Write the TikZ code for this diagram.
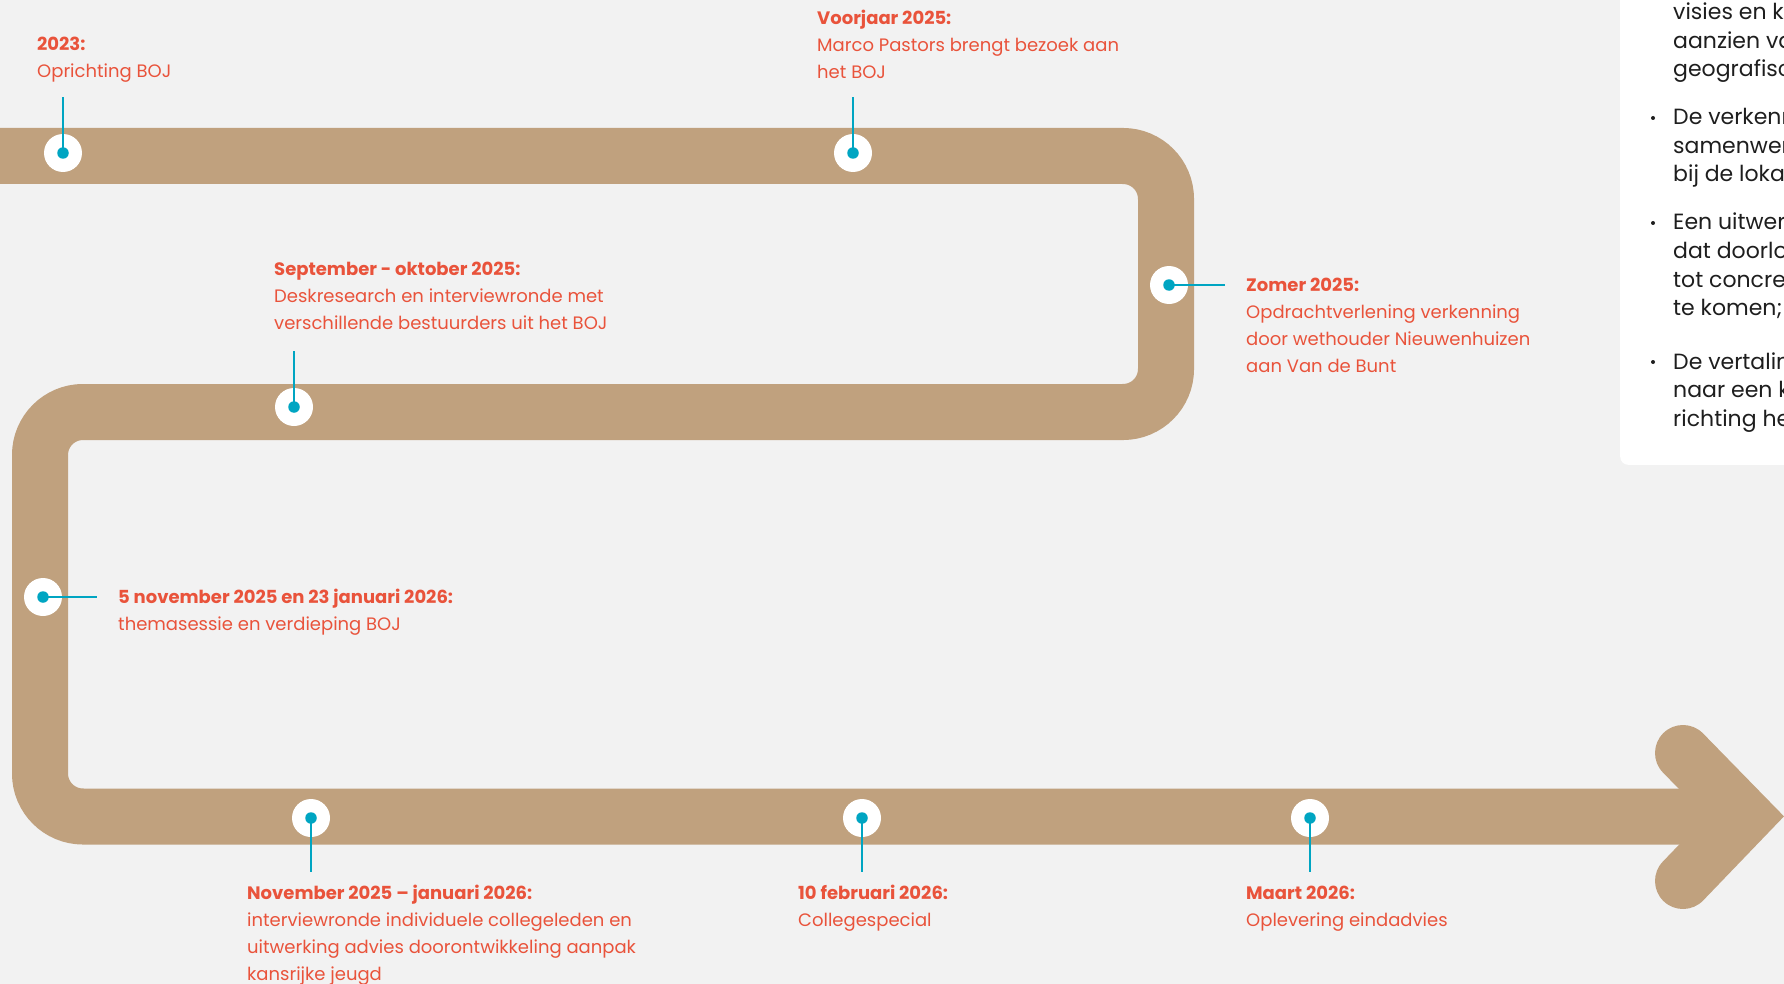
\documentclass[tikz,border=0pt]{standalone}
\usepackage{fontspec}
\setmainfont{Poppins}
\definecolor{bgc}{HTML}{F2F2F2}
\definecolor{bandc}{HTML}{C0A17E}
\definecolor{tealc}{HTML}{00A5C2}
\definecolor{redc}{HTML}{E9533B}
\definecolor{inkc}{HTML}{1E1E1E}
\tikzset{
  band/.style={draw=bandc, line width=56pt},
  dotw/.style={circle, fill=white, minimum size=38pt, inner sep=0pt},
  dott/.style={circle, fill=tealc, minimum size=11.5pt, inner sep=0pt},
  tline/.style={draw=tealc, line width=2.8pt},
  lbl/.style={anchor=base west, align=left, inner sep=0pt, text=redc, font=\fontsize{18}{27}\selectfont},
  boxtxt/.style={anchor=base west, align=left, inner sep=0pt, text=inkc, font=\fontsize{22}{28.5}\selectfont},
  bul/.style={circle, fill=inkc, minimum size=4pt, inner sep=0pt}
}
\begin{document}
\begin{tikzpicture}[x=1pt,y=-1pt]
\useasboundingbox[fill=bgc] (0,0) rectangle (1784,984);
% path coordinates
\coordinate (p0) at (-40,156);
\coordinate (p1) at (1166,156);
\coordinate (p2) at (1166,412);
\coordinate (p3) at (40,412);
\coordinate (p4) at (40,816.5);
\coordinate (p5) at (1745,816.5);
\coordinate (a1) at (1683,753);
\coordinate (a2) at (1683,881);
\draw[band, rounded corners=43pt] (p0) -- (p1) -- (p2) -- (p3) -- (p4) -- (p5);
\draw[band, line cap=round, line join=miter, miter limit=4] (a1) -- (p5) -- (a2);
% info box
\node[draw=none, fill=white, rounded corners=8pt, minimum width=200pt, minimum height=500pt, anchor=south west, inner sep=0pt] (box) at (1620,465) {};
\node[boxtxt] (bp0) at (1673,77) {visies en ke\\aanzien va\\geografisch};
\node[boxtxt] (bp1) at (1673,182) {De verkenn\\samenwerk\\bij de lokal};
\node[boxtxt] (bp2) at (1673,315.5) {Een uitwerk\\dat doorlop\\tot concrete\\te komen;};
\node[boxtxt] (bp3) at (1673,426) {De vertaling\\naar een ko\\richting het};
\node[bul] (b1) at (1653,118) {};
\node[bul] (b2) at (1653,223) {};
\node[bul] (b3) at (1653,362) {};
% dots
\foreach \n/\x/\y in {1/63/153, 2/853/153, 3/294/407, 4/1169/285, 5/43/597, 6/311/818, 7/862/818, 8/1310/818} {
  \node[dotw] (w\n) at (\x,\y) {};
}
\coordinate (c1) at (63,97);
\coordinate (c2) at (853,97);
\coordinate (c3) at (294,351);
\coordinate (c4) at (1225,285);
\coordinate (c5) at (97,597);
\coordinate (c6) at (311,872);
\coordinate (c7) at (862,872);
\coordinate (c8) at (1310,872);
\foreach \n in {1,...,8} {
  \draw[tline] (w\n.center) -- (c\n);
  \node[dott] (t\n) at (w\n.center) {};
}
% labels (anchor = baseline of last line)
\node[lbl] (l1) at (37,78) {\textbf{2023:}\\Oprichting BOJ};
\node[lbl] (l2) at (817,79) {\textbf{Voorjaar 2025:}\\Marco Pastors brengt bezoek aan\\het BOJ};
\node[lbl] (l3) at (274,329) {\textbf{September - oktober 2025:}\\Deskresearch en interviewronde met\\verschillende bestuurders uit het BOJ};
\node[lbl] (l4) at (1246,372.5) {\textbf{Zomer 2025:}\\Opdrachtverlening verkenning\\door wethouder Nieuwenhuizen\\aan Van de Bunt};
\node[lbl] (l5) at (118,630.5) {\textbf{5 november 2025 en 23 januari 2026:}\\themasessie en verdieping BOJ};
\node[lbl] (l6) at (247,980) {\textbf{November 2025 – januari 2026:}\\interviewronde individuele collegeleden en\\uitwerking advies doorontwikkeling aanpak\\kansrijke jeugd};
\node[lbl] (l7) at (798,926) {\textbf{10 februari 2026:}\\Collegespecial};
\node[lbl] (l8) at (1246,926) {\textbf{Maart 2026:}\\Oplevering eindadvies};
\end{tikzpicture}
\end{document}
